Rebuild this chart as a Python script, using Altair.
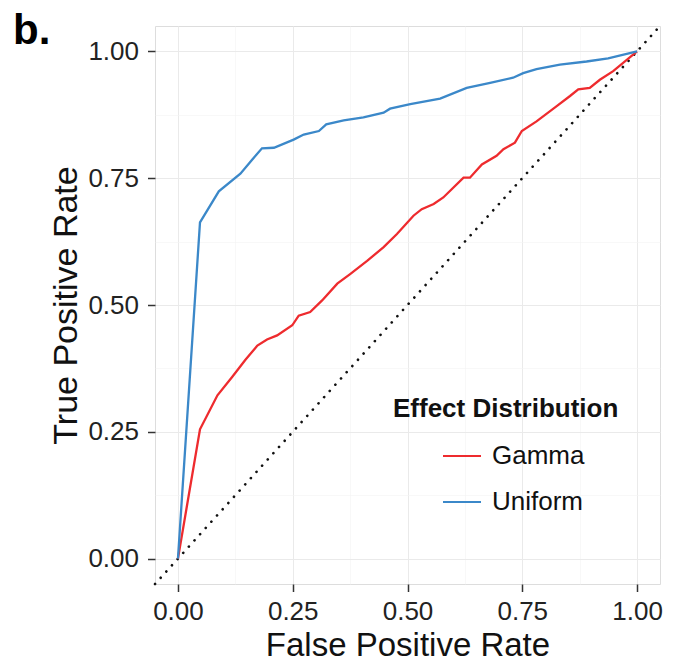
import altair as alt
import pandas as pd

# Uniform effect distribution ROC
fpr_uniform = [0, 0.048, 0.089, 0.136, 0.162, 0.183, 0.209, 0.252, 0.274, 0.307, 0.323, 0.361,
               0.404, 0.448, 0.462, 0.506, 0.571, 0.629, 0.680, 0.730, 0.752, 0.781, 0.832,
               0.890, 0.937, 1.0]
tpr_uniform = [0, 0.663, 0.724, 0.759, 0.787, 0.809, 0.810, 0.826, 0.836, 0.843, 0.856, 0.864,
               0.870, 0.879, 0.887, 0.896, 0.907, 0.928, 0.938, 0.948, 0.957, 0.965, 0.974,
               0.980, 0.986, 1.0]

# Gamma effect distribution ROC
fpr_gamma = [0, 0.048, 0.086, 0.118, 0.147, 0.173, 0.194, 0.216, 0.249, 0.263, 0.288, 0.314,
             0.347, 0.375, 0.412, 0.448, 0.477, 0.513, 0.531, 0.557, 0.578, 0.622, 0.636,
             0.662, 0.694, 0.709, 0.734, 0.749, 0.781, 0.825, 0.854, 0.872, 0.897, 0.919,
             0.948, 1.0]
tpr_gamma = [0, 0.255, 0.322, 0.358, 0.392, 0.420, 0.432, 0.440, 0.460, 0.479, 0.486, 0.509,
             0.542, 0.561, 0.587, 0.614, 0.640, 0.676, 0.689, 0.699, 0.712, 0.751, 0.751,
             0.777, 0.794, 0.807, 0.820, 0.843, 0.862, 0.892, 0.912, 0.925, 0.928, 0.944,
             0.961, 1.0]

series_names = ["Gamma", "Uniform"]
series_colors = ["#EE2B2E", "#3B88C9"]
diag = [-0.05, 1.05]
axis_values = [0, 0.125, 0.25, 0.375, 0.5, 0.625, 0.75, 0.875, 1.0]
domain = [-0.05, 1.05]

df = pd.concat([
    pd.DataFrame({"fpr": fpr_gamma, "tpr": tpr_gamma, "dist": "Gamma"}),
    pd.DataFrame({"fpr": fpr_uniform, "tpr": tpr_uniform, "dist": "Uniform"}),
])
ddf = pd.DataFrame({"fpr": diag, "tpr": diag})

FONT = "Liberation Sans"
is_major = "round(datum.value * 8) % 2 == 0"

x_axis = alt.Axis(
    title="False Positive Rate", values=axis_values, format=".2f",
    labelExpr=f"{is_major} ? format(datum.value, '.2f') : ''",
    labelFontSize=26, labelColor="#222", labelFont=FONT, labelPadding=7,
    titleFontSize=33, titleFont=FONT, titleFontWeight="normal", titleColor="#111", titlePadding=5,
    tickSize=7.5, tickWidth=1.5, tickColor="#333",
    tickOpacity={"condition": {"test": is_major, "value": 1}, "value": 0},
    gridColor={"condition": {"test": is_major, "value": "#EAEAEA"}, "value": "#F4F4F4"},
    gridWidth={"condition": {"test": is_major, "value": 1}, "value": 0.6},
    domain=False, labelFlush=False,
)
y_axis = alt.Axis(
    title="True Positive Rate", values=axis_values, format=".2f",
    labelExpr=f"{is_major} ? format(datum.value, '.2f') : ''",
    labelFontSize=26, labelColor="#222", labelFont=FONT, labelPadding=9,
    titleFontSize=34, titleFont=FONT, titleFontWeight="normal", titleColor="#111", titlePadding=4,
    tickSize=7.5, tickWidth=1.5, tickColor="#333",
    tickOpacity={"condition": {"test": is_major, "value": 1}, "value": 0},
    gridColor={"condition": {"test": is_major, "value": "#EAEAEA"}, "value": "#F4F4F4"},
    gridWidth={"condition": {"test": is_major, "value": 1}, "value": 0.6},
    domain=False, labelFlush=False,
)

xs = alt.Scale(domain=domain, nice=False, zero=False)
ys = alt.Scale(domain=domain, nice=False, zero=False)

diag_line = alt.Chart(ddf).mark_line(
    color="#111", strokeWidth=2.6, strokeDash=[0.1, 8.3], strokeCap="round"
).encode(
    x=alt.X("fpr:Q", scale=xs, axis=x_axis),
    y=alt.Y("tpr:Q", scale=ys, axis=y_axis),
)

roc = alt.Chart(df).mark_line(strokeWidth=2.3).encode(
    x=alt.X("fpr:Q", scale=xs, axis=x_axis),
    y=alt.Y("tpr:Q", scale=ys, axis=y_axis),
    color=alt.Color(
        "dist:N",
        scale=alt.Scale(domain=series_names, range=series_colors),
        legend=alt.Legend(
            title="Effect Distribution", orient="none", legendX=238, legendY=370,
            titleFontSize=26, titleFont=FONT, titleFontWeight="bold", titleColor="#111",
            titlePadding=14, padding=0, titleLimit=500, labelLimit=300,
            labelFontSize=26, labelFont=FONT, labelColor="#111",
            symbolType="stroke", symbolSize=1444, symbolStrokeWidth=2,
            symbolOffset=49, labelOffset=10, rowPadding=13,
        ),
    ),
)

chart = alt.layer(diag_line, roc).properties(
    width=505, height=558,
    autosize=alt.AutoSizeParams(type="none"),
    padding={"left": 155, "top": 26, "right": 18, "bottom": 83},
    title=alt.TitleParams(
        text="b.", anchor="start", frame="group", fontSize=42, font=FONT,
        fontWeight="bold", color="#000", dx=-142, dy=65, offset=0, baseline="alphabetic",
    ),
).configure_view(
    stroke="#9A9A9A", strokeWidth=1.2
).configure(background="white")

chart.save("out.html", embed_options={"renderer": "svg", "actions": False})
